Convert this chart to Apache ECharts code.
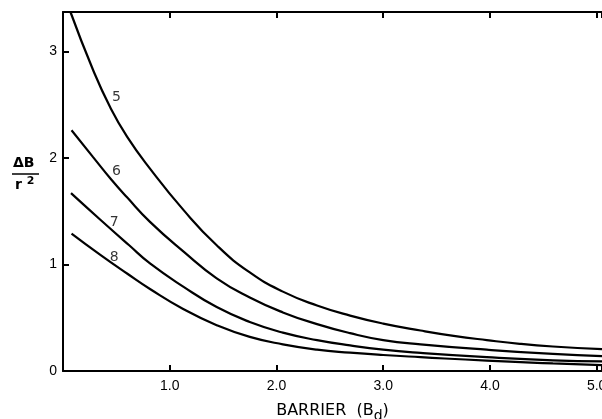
<!DOCTYPE html>
<html>
<head>
<meta charset="utf-8">
<script src="https://cdn.jsdelivr.net/npm/echarts@6/dist/echarts.min.js"></script>
<style>
  html, body { margin: 0; padding: 0; background: #fff; }
  #chart { width: 602px; height: 419px; }
</style>
</head>
<body>
<div id="chart"></div>
<script>
// values: [barrier, ΔB/r²]
const curve5 = [[0.07, 3.37], [0.28, 2.83], [0.44, 2.48], [0.60, 2.20], [0.815, 1.90], [1.13, 1.51], [1.44, 1.18],
  [1.75, 0.925], [2.06, 0.745], [2.38, 0.615], [2.69, 0.52], [3.0, 0.445], [3.35, 0.38], [3.66, 0.33], [3.97, 0.29],
  [4.28, 0.255], [4.59, 0.23], [5.05, 0.206]]
const curve6 = [[0.08, 2.26], [0.28, 2.01], [0.45, 1.80], [0.60, 1.63], [0.815, 1.40], [1.13, 1.12], [1.44, 0.87],
  [1.75, 0.69], [2.06, 0.55], [2.38, 0.44], [2.69, 0.355], [3.0, 0.29], [3.35, 0.25], [3.97, 0.20], [4.59, 0.16], [5.05, 0.14]]
const curve7 = [[0.075, 1.67], [0.35, 1.42], [0.62, 1.18], [0.815, 1.01], [1.13, 0.79], [1.44, 0.60], [1.75, 0.46],
  [2.06, 0.36], [2.38, 0.29], [2.69, 0.24], [3.0, 0.20], [3.35, 0.17], [3.97, 0.13], [4.59, 0.10], [5.05, 0.09]]
const curve8 = [[0.08, 1.29], [0.35, 1.09], [0.60, 0.915], [0.815, 0.77], [1.13, 0.58], [1.44, 0.43], [1.75, 0.32],
  [2.06, 0.25], [2.38, 0.20], [2.69, 0.172], [3.0, 0.15], [3.35, 0.13], [3.97, 0.097], [4.59, 0.072], [5.05, 0.056]]

const curveNames = ['5', '6', '7', '8']
const curveLabelAt = [[0.50, 2.57], [0.50, 1.87], [0.48, 1.40], [0.48, 1.07]]
const xTicks = [1, 2, 3, 4, 5]
const yTicks = [0, 1, 2, 3]

const font = 'DejaVu Sans'
const tickFont = 'Liberation Sans'
const chart = echarts.init(document.getElementById('chart'), null, { renderer: 'canvas' })

const axisLine = { show: true, lineStyle: { color: '#000', width: 2 } }
const axisTick = { show: true, inside: true, length: 6, lineStyle: { color: '#000', width: 2 } }

const series = [curve5, curve6, curve7, curve8].map((data, i) => ({
  name: curveNames[i], type: 'line', data, smooth: 0.5, showSymbol: false, silent: true,
  lineStyle: { color: '#000', width: 2.2 },
}))

// curve numbers, placed in data space
series.push({
  type: 'scatter', silent: true, symbolSize: 10,
  itemStyle: { color: 'rgba(0,0,0,0)' },
  data: curveLabelAt.map((c, i) => ({ value: c, name: curveNames[i] })),
  label: { show: true, position: 'inside', formatter: p => p.name, color: '#000', fontSize: 14, fontFamily: font },
})

chart.setOption({
  animation: false,
  grid: { left: 63, right: 0, top: 12, bottom: 48, outerBoundsMode: 'none', containLabel: false },
  xAxis: [{
    type: 'value', min: 0, max: 5.05, interval: 1,
    axisLine, axisTick, splitLine: { show: false },
    axisLabel: {
      color: '#000', fontSize: 14, fontFamily: tickFont, margin: 8,
      formatter: v => xTicks.includes(v) ? v.toFixed(1) : '',
    },
    name: 'BARRIER  (B{sub|d})', nameLocation: 'middle', nameGap: 28,
    nameTextStyle: {
      color: '#000', fontSize: 16, fontFamily: font,
      rich: { sub: { fontSize: 14, fontFamily: font, color: '#000', verticalAlign: 'bottom', padding: [10, 0, 0, 0] } },
    },
  }, {
    type: 'value', position: 'top', min: 0, max: 5.05, interval: 1,
    axisLine, axisTick, axisLabel: { show: false }, splitLine: { show: false },
  }],
  yAxis: {
    type: 'value', min: 0, max: 3.37, interval: 1,
    axisLine, axisTick, splitLine: { show: false },
    axisLabel: {
      color: '#000', fontSize: 14, fontFamily: tickFont, margin: 6,
      formatter: v => yTicks.includes(v) ? String(v) : '',
    },
  },
  graphic: [
    { type: 'text', left: 13, top: 156, style: { text: 'ΔB', font: `bold 14px "${font}"`, fill: '#000' } },
    { type: 'line', shape: { x1: 12, y1: 174, x2: 39, y2: 174 }, style: { stroke: '#000', lineWidth: 1.5 } },
    {
      type: 'text', left: 15, top: 176,
      style: {
        text: 'r {sup|2}', font: `bold 14px "${font}"`, fill: '#000',
        rich: { sup: { fontSize: 11, fontWeight: 'bold', fontFamily: font, fill: '#000', padding: [0, 0, 7, 0] } },
      },
    },
  ],
  series,
})
</script>
</body>
</html>
